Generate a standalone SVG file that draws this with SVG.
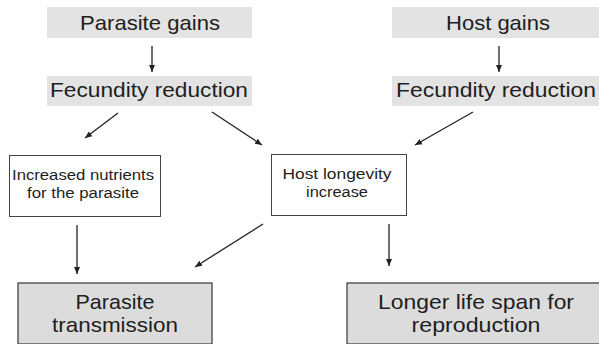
<svg xmlns="http://www.w3.org/2000/svg" width="599" height="344" viewBox="0 0 599 344">
<defs>
<marker id="ah" markerWidth="8" markerHeight="8" refX="7" refY="4" orient="auto" markerUnits="userSpaceOnUse">
<path d="M0,1 L7,4 L0,7 Z" fill="#222"/>
</marker>
</defs>
<style>
.t{font-family:"Liberation Sans",Arial,sans-serif;fill:#1e1e1e;text-anchor:middle}
.big{font-size:21px}
.sm{font-size:15.5px}
.top{fill:#e3e3e3}
.small{fill:#fff;stroke:#444;stroke-width:1}
.bot{fill:#dcdcdc;stroke:#444;stroke-width:1.3}
.c{stroke:#222;stroke-width:1.3;fill:none;marker-end:url(#ah)}
</style>
<rect width="599" height="344" fill="#fff"/>
<g id="parasite-gains">
<rect class="top" x="47" y="7" width="205" height="31"/>
<text class="t big" x="150" y="30" textLength="140" lengthAdjust="spacingAndGlyphs">Parasite gains</text>
</g>
<g id="fecundity-left">
<rect class="top" x="47" y="76" width="205" height="30"/>
<text class="t big" x="149" y="97" textLength="198" lengthAdjust="spacingAndGlyphs">Fecundity reduction</text>
</g>
<g id="host-gains">
<rect class="top" x="392" y="7" width="210" height="31"/>
<text class="t big" x="498" y="30" textLength="104" lengthAdjust="spacingAndGlyphs">Host gains</text>
</g>
<g id="fecundity-right">
<rect class="top" x="392" y="76" width="210" height="30"/>
<text class="t big" x="496" y="97" textLength="200" lengthAdjust="spacingAndGlyphs">Fecundity reduction</text>
</g>
<g id="nutrients">
<rect class="small" x="9.5" y="155.5" width="151" height="61"/>
<text class="t sm" x="83" y="180" textLength="142" lengthAdjust="spacingAndGlyphs">Increased nutrients</text>
<text class="t sm" x="83" y="198" textLength="112" lengthAdjust="spacingAndGlyphs">for the parasite</text>
</g>
<g id="longevity">
<rect class="small" x="271.5" y="154.5" width="135" height="61"/>
<text class="t sm" x="337" y="179" textLength="109" lengthAdjust="spacingAndGlyphs">Host longevity</text>
<text class="t sm" x="337" y="197" textLength="62" lengthAdjust="spacingAndGlyphs">increase</text>
</g>
<g id="transmission">
<rect class="bot" x="18" y="283" width="194" height="61"/>
<text class="t big" x="115" y="309" textLength="79" lengthAdjust="spacingAndGlyphs">Parasite</text>
<text class="t big" x="115" y="332" textLength="126" lengthAdjust="spacingAndGlyphs">transmission</text>
</g>
<g id="lifespan">
<rect class="bot" x="347" y="283" width="256" height="61"/>
<text class="t big" x="476" y="309" textLength="196" lengthAdjust="spacingAndGlyphs">Longer life span for</text>
<text class="t big" x="476" y="332" textLength="129" lengthAdjust="spacingAndGlyphs">reproduction</text>
</g>
<g id="connectors">
<line class="c" x1="152" y1="46" x2="152" y2="72"/>
<line class="c" x1="499" y1="46" x2="499" y2="72"/>
<line class="c" x1="118" y1="113" x2="85" y2="138"/>
<line class="c" x1="212" y1="112" x2="262" y2="145"/>
<line class="c" x1="473" y1="112" x2="415" y2="145"/>
<line class="c" x1="77" y1="225" x2="77" y2="274"/>
<line class="c" x1="263" y1="224" x2="195" y2="267"/>
<line class="c" x1="389" y1="224" x2="389" y2="266"/>
</g>
</svg>
